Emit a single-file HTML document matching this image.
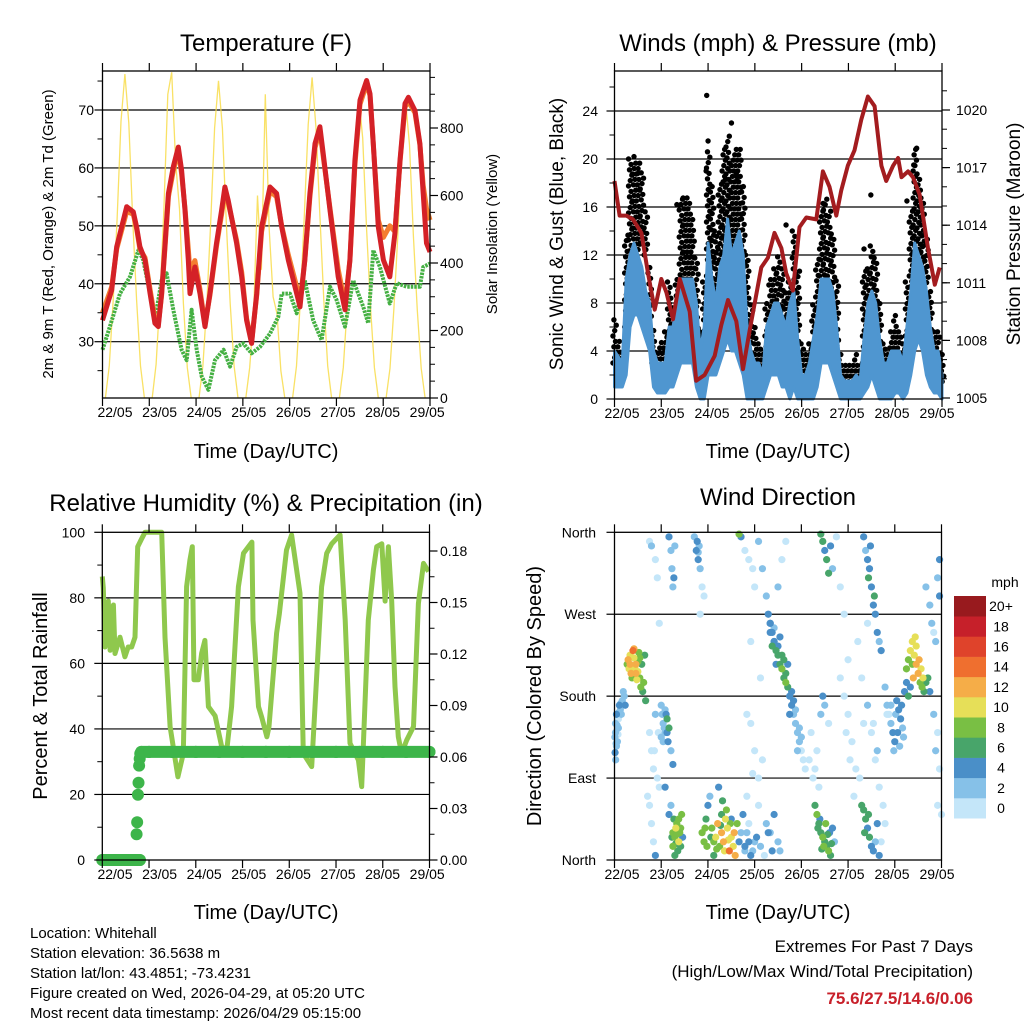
<!DOCTYPE html>
<html><head><meta charset="utf-8"><style>
html,body{margin:0;padding:0;background:#fff;}
svg{display:block;font-family:"Liberation Sans",Arial,sans-serif;}
</style></head><body>
<svg id="chart" width="1024" height="1024" viewBox="0 0 1024 1024" xmlns="http://www.w3.org/2000/svg">
<rect x="0" y="0" width="1024" height="1024" fill="#fff"/>
<text x="266" y="51" font-size="24" text-anchor="middle">Temperature (F)</text>
<text x="778" y="51" font-size="24" text-anchor="middle">Winds (mph) &amp; Pressure (mb)</text>
<text x="266" y="511" font-size="24" text-anchor="middle">Relative Humidity (%) &amp; Precipitation (in)</text>
<text x="778" y="505" font-size="24" text-anchor="middle">Wind Direction</text>
<text x="266" y="458" font-size="20" text-anchor="middle">Time (Day/UTC)</text>
<text x="778" y="458" font-size="20" text-anchor="middle">Time (Day/UTC)</text>
<text x="266" y="919" font-size="20" text-anchor="middle">Time (Day/UTC)</text>
<text x="778" y="919" font-size="20" text-anchor="middle">Time (Day/UTC)</text>
<text transform="translate(53,234) rotate(-90)" font-size="15" text-anchor="middle">2m &amp; 9m T (Red, Orange) &amp; 2m Td (Green)</text>
<text transform="translate(497,234) rotate(-90)" font-size="15" text-anchor="middle">Solar Insolation (Yellow)</text>
<text transform="translate(563,234) rotate(-90)" font-size="19" text-anchor="middle">Sonic Wind &amp; Gust (Blue, Black)</text>
<text transform="translate(1020,234) rotate(-90)" font-size="19" text-anchor="middle">Station Pressure (Maroon)</text>
<text transform="translate(47,696) rotate(-90)" font-size="20" text-anchor="middle">Percent &amp; Total Rainfall</text>
<text transform="translate(541,696) rotate(-90)" font-size="20" text-anchor="middle">Direction (Colored By Speed)</text>
<g font-size="15">
<text x="30" y="938">Location: Whitehall</text>
<text x="30" y="958">Station elevation: 36.5638 m</text>
<text x="30" y="978">Station lat/lon: 43.4851; -73.4231</text>
<text x="30" y="998">Figure created on Wed, 2026-04-29, at 05:20 UTC</text>
<text x="30" y="1018">Most recent data timestamp: 2026/04/29 05:15:00</text>
</g>
<g font-size="17" text-anchor="end">
<text x="973" y="952">Extremes For Past 7 Days</text>
<text x="973" y="977">(High/Low/Max Wind/Total Precipitation)</text>
<text x="973" y="1004" font-weight="bold" fill="#c8202a">75.6/27.5/14.6/0.06</text>
</g>
</svg>
<script>
// ---------- DATA ----------
const dayLabels=["22/05","23/05","24/05","25/05","26/05","27/05","28/05","29/05"];
const tempTimes=[0,4.7,7.3,12.4,15.8,17.5,19.2,21.8,24.4,26.9,28.6,30.3,32.1,33.8,36.3,38.9,40.6,42.3,44,44.9,47.4,50,52.6,55.1,58.5,61.1,62.8,64.5,68.8,71.4,73.9,76.5,79.1,81.6,85.9,89.3,91.9,95.3,99.6,101.3,103.8,106.4,109,111.5,113.2,116.7,120.9,124.4,126.9,129.5,132.1,135.5,137.2,138.9,141.5,144.1,147.4,150,152.6,155.2,156.9,160.3,162.8,164.5,166.2,168];
const redTemps=[33.7,38.9,46.4,53.3,52.4,49.8,46.4,44.1,38.3,33.2,32.6,38.3,47,55.6,60.2,63.6,59.6,52.7,44.1,38.3,42.9,38.3,32.6,38.3,47,52.7,56.7,54.4,47,41.2,33.7,29.7,38.3,49.8,56.7,55.6,49.8,44.1,38.3,36,44.1,55.6,64.2,67.1,62.5,52.7,41.2,35.5,44.1,61.3,71.7,75.1,72.8,64.2,49.8,44.1,41.2,48.7,61.3,71.1,72.2,69.9,64.2,55.6,47,45.5];
const orangeTemps=[35,39.5,46,52.5,52,49.5,46,44.5,39,34,33,38,46.5,55,59.5,63,59,53,46,42,44,39,33,38,46.5,52,56,54,47.5,42,34,30,38,49,56,55,50,45,39.5,37,44,55,63.5,66.5,62,53,42.5,36.5,44,60.5,71,74.5,72.5,64,51,48,50,49,61,70.5,71.5,69.5,64,57,53,51];
const dewTimes=[0,3.8,9,14.1,18.4,20.9,24.4,26.9,30.3,32.9,36.3,40.6,43.2,45.7,48.3,50.9,54.3,57.7,62.1,65.4,68.8,72.2,76.5,80.8,85.9,90.2,91.9,96.2,99.6,103.8,108.1,112.4,116.7,120.1,124.4,128.6,133.8,136.3,138.9,142.3,147.4,150.9,156,162.8,164.5,168];
const dewTemps=[28.6,32.6,38.3,41.2,45.8,44.1,38.3,33.7,40.6,41.8,35.5,28.6,26.8,35.5,28.6,24,21.7,26.8,28.6,25.7,29.1,29.7,28,29.1,31.4,34.3,38.3,38.3,34.9,40.6,33.7,30.3,39.5,37.2,32.6,40.6,36,33.2,45.8,42.9,36.6,40.1,39.5,39.5,42.9,43.5];
const solarStart=1.5, solarStep=2;
const solarValues=[0,96,290,530,820,960,815,530,290,95,0,0,
0,100,300,560,900,965,700,560,280,90,0,0,
0,95,280,520,800,940,800,520,280,95,0,0,
0,90,250,600,380,900,500,300,250,80,0,0,
0,95,290,540,810,950,800,540,290,95,0,0,
0,90,270,490,760,890,770,500,270,90,0,0,
0,88,265,480,750,880,750,480,260,88,0];
const windStep=2;
const gustHi=[7,5,4,14,20,20,20,19,16,11,6,4,5,6,10,8,10,17,17,17,15,12,6,10,21,18,14,18,21,22,20,21,21,18,12,8,6,5,4,8,10,11,12,11,9,10,14,11,5,4,5,8,12,16,17,16,14,10,4,3,3,3,4,3,11,11,13,12,8,5,4,6,7,6,5,10,16,21,19,17,14,9,6,6,4];
const gustLo=[3,3,2,6,11,12,12,13,12,6,3,2,2,2,3,4,5,9,10,10,10,5,2,3,8,6,5,8,10,12,10,10,10,6,3,2,1,1,1,3,5,5,6,5,3,3,5,3,1,1,1,2,4,8,9,8,7,4,1,1,1,1,1,1,3,5,6,5,3,1,1,2,2,2,1,3,8,10,12,10,7,4,2,2,1];
const windHi=[4,3.5,3,10,12,13,12,11,9,8,4,3,3,3,6,6,8,10,10,10,10,8,4,6,13,10,8,11,12,15,12,13,14,12,6,4,3,3,2,6,7,8,8,7,6,8,9,5,2,2,3,5,7,10,10,10,9,6,2,1.5,1.5,1.5,2,1.5,5,8,9,8,5,3,3,4,4,4,3,6,9,13,12,11,9,6,4,4,2];
const windLo=[1,1,1,2,6,7,7,6,5,4,1,0.5,0.5,0.5,1,1,2,3,3,3,3,1,0,0,2,2,2,3,4,5,4,4,3,2,0,0,0,0,0,1,2,2,2,1,1,0,1,0,0,0,0,0,1,3,3,3,2,1,0,0,0,0,0,0,0.5,1,2,1,0,0,0,0,0.5,0.5,0,0.5,2,4,5,4,2,1,0.5,0.5,0];
const gustOutlierTimes=[47.3,48,47,57,63,62.5,12,131.5,155,32,34,107,128,153.5,10,60,88,150];
const gustOutlierValues=[25.3,21.5,19,18.3,18.2,18.8,18.8,17,20.9,16.2,16.2,16.3,12.5,19.5,20.2,23,14.5,16.5];
const pressTimes=[0,2.6,6.1,9.5,13.8,17.2,20.6,24,26.6,30,33.5,38.6,41.9,46.2,51.4,54.8,58.2,62.5,65.9,69.3,75.3,78.7,82.1,85.6,88.1,91.5,94.9,98.4,103.5,106.9,110.3,113.8,116.3,119.7,123.1,126.6,130,133.4,136.9,139.4,142.9,145.5,147.2,150.6,153.1,156.5,160.8,164.3,166.8];
const pressValues=[1016.3,1014.5,1014.5,1014.3,1013.6,1011.5,1009.6,1011.2,1010.5,1009.1,1011.2,1009.5,1005.9,1006.2,1007.2,1008.8,1010.1,1009,1006.5,1008.5,1011.8,1012.3,1013.6,1012.8,1011.5,1010.6,1013.9,1014.4,1014.3,1016.8,1016,1014.5,1015.8,1017.1,1017.9,1019.5,1020.7,1020.2,1017.1,1016.3,1017.1,1017.5,1016.5,1016.8,1016.5,1015.6,1012.8,1010.9,1011.8];
const rhTimes=[0,0.5,1.4,3.1,4,5.7,6.5,9.1,11.6,13.3,15.1,16.8,18.2,20.2,21.9,30.5,32.2,34.8,38.8,41.6,43.3,45,46.2,47.1,49.3,51,52.7,54.5,57.9,61.3,63.9,66.4,69.9,72.5,76.8,77.4,80.2,81.9,84.5,85.6,89.5,90.9,94.6,97.2,101.5,103.2,107.5,112.6,115.2,117.8,122.1,124.7,127.2,131.5,133.2,136.6,139.2,140.9,143.5,145.2,146.9,148.6,150.3,152,153.7,156.3,159.8,162.3,164.9,167.5];
const rhValues=[86.5,83,65,79,64,77.8,63,68,62,65,65,68,95.6,98,100,100,68,40.7,25.4,32.5,83.4,91.5,95.6,55,55,63,67,46.8,44,34.6,33.6,46.8,83.4,93.6,97,73.2,46.8,43.5,37.6,40.7,69.2,75,94.6,99.2,81.4,32.5,28.5,83.4,93.6,96.5,99.2,73.2,35.6,30.5,22.4,73.2,88.5,95.6,96.5,79,95.6,79,52.9,37.6,32.5,36.6,40.7,78.3,90.5,88];
const precipTimes=[0,1,2,3,4,5,6,7,8,9,10,11,12,13,14,15,16,17,18,19.3,17.6,17.9,18.3,18.6,18.9,19.2,19.5,20,24,36,48,60,72,84,96,108,120,132,144,156,168];
const precipValues=[0,0,0,0,0,0,0,0,0,0,0,0,0,0,0,0,0,0,0,0,0.015,0.022,0.038,0.045,0.055,0.059,0.062,0.063,0.063,0.063,0.063,0.063,0.063,0.063,0.063,0.063,0.063,0.063,0.063,0.063,0.063];
const dirLabels=["North","East","South","West","North"];
const speedBinLabels=["0","2","4","6","8","10","12","14","16","18","20+"];
const speedBinColors=["#c4e6f9","#86c1e8","#4a8fc8","#48a56a","#79bf44","#e6df58","#f5ad48","#ef6f2f","#df432b","#c6202a","#981a1e"];
const dirPoints="0.5,150,3;0.5,140,2;1,160,4;1.5,130,2;2,145,3;2.5,170,4;3,165,3;1,125,2;0.3,118,4;2,155,1;4,175,2;5,180,3;5.5,170,4;3.5,160,2;0.2,135,3;0.8,128,3;1.3,148,2;2.2,162,3;3.2,172,2;4.5,185,3;0.6,110,2;1.8,138,1;"+
"7,220,12;8,215,13;9,210,11;10,222,10;11,205,12;12,218,9;13,200,8;14,215,7;15,195,9;8.5,205,12;10.5,212,11;12.5,228,8;14.5,185,7;16,175,6;9.5,230,14;11.5,198,10;13.5,190,9;15.5,225,6;7.5,210,10;9,200,9;10,232,12;11,215,13;12,207,10;13,222,9;8,225,11;6.5,215,8;"+
"18,350,1;19,345,2;21,330,1;22,310,1;23,260,0;28,355,5;29,340,3;29.5,320,3;30,300,3;30.5,310,4;31,345,2;"+
"18,140,0;19,120,1;20,100,1;21,160,2;24,170,3;25,150,3;26,140,3;26.5,160,4;27,155,6;27.5,130,5;28,145,6;29,120,3;30,105,4;22,90,1;23,80,1;22.5,140,0;25,130,2;24.5,160,2;25.5,145,3;26,165,3;27,140,4;24,135,2;20.5,120,1;"+
"17,70,1;18,60,1;19,40,0;20,20,1;21,5,4;26,80,4;28,50,5;30,30,8;31,25,9;32,40,8;33,20,10;34,15,7;30.5,45,7;31.5,35,10;32.5,10,6;29,60,3;33.5,30,9;34.5,50,8;31,5,6;29.5,25,7;30,15,8;32,28,9;33,45,8;31.5,18,7;34,35,8;35,25,4;"+
"41,355,3;42,340,4;43,330,4;43.5,345,3;44,320,2;45,300,1;46,290,1;44,270,0;42.5,350,4;43,338,3;"+
"45,30,8;46,20,9;47,45,7;48,60,4;49,70,3;50,35,8;51,20,8;52,25,10;53,40,12;54,15,9;55,30,13;56,20,12;57,45,10;58,35,11;59,10,14;60,25,11;61,15,10;62,5,13;63,40,8;64,20,4;65,30,3;66,50,4;67,10,3;68,70,1;69,40,1;53.5,80,5;55.5,65,6;57.5,55,8;51,5,7;60,45,4;46.5,35,8;47.5,15,9;49.5,25,7;52.5,12,8;54.5,38,7;56.5,10,10;58.5,22,10;61.5,30,12;59.5,40,8;55,50,6;"+
"64,358,8;65,355,4;67,340,1;69,330,1;71,320,1;72,300,1;74,350,2;76,320,3;78,290,3;80,260,4;82,240,4;84,300,2;86,330,1;88,350,1;"+
"79,270,4;80,260,4;81,250,5;82,240,4;83,230,6;84,225,7;85,215,6;86,210,8;87,200,7;88,195,8;89,190,6;90,180,4;91,170,4;92,160,3;93,150,3;94,140,2;95,130,2;96,120,1;97,110,1;98,100,1;81,235,7;83,215,5;85,245,4;87,220,6;90,160,4;92,175,4;95,145,3;80,250,5;82,255,3;84,235,4;86,225,6;88,205,7;89,215,5;91,185,4;93,165,3;94,120,2;96,135,2;"+
"68,160,1;70,150,1;72,120,1;74,90,1;75,200,0;70,240,1;71,95,0;76,110,1;74,60,1;78,40,2;80,30,2;82,50,4;84,20,2;85,10,2;"+
"67,15,4;69,20,4;71,10,2;73,25,4;75,15,3;77,5,1;79,30,5;81,10,4;68,30,3;70,5,4;72,20,2;"+
"100,110,1;101,140,0;102,90,0;103,100,1;104,120,0;105,80,0;106,160,2;107,180,4;108,170,2;110,150,1;"+
"103,60,6;104,50,8;105,40,7;106,30,6;107,25,8;108,20,6;109,15,7;110,10,8;111,5,6;112,35,5;105.5,45,5;107.5,15,9;110.5,30,4;113,20,3;104.5,35,7;106.5,12,6;108.5,40,8;109.5,28,6;111.5,18,7;"+
"106,358,6;107,350,7;108,340,5;109,330,6;110,315,7;111,345,4;112,320,3;114,355,1;116,300,1;118,270,0;"+
"116,200,0;118,180,1;120,160,0;122,130,1;124,100,0;126,90,1;128,150,1;130,170,2;132,140,1;134,110,0;136,80,1;138,60,0;120,220,0;125,240,1;130,260,1;135,120,3;140,160,1;139,40,0;137,20,1;119,140,0;121,110,1;123,70,0;127,200,1;133,150,1;"+
"128,355,4;129,340,3;130,330,4;131,320,4;132,300,5;133,280,4;134,270,4;135,250,5;136,240,3;137,230,4;130.5,310,6;133.5,290,6;131.5,345,5;"+
"127,60,6;128,55,7;129,45,6;130,35,5;131,25,6;132,15,5;133,10,4;134,20,3;135,40,4;136,5,4;128.5,30,6;130.5,50,7;"+
"139,190,3;140,170,2;141,160,1;142,150,3;143,140,4;144,130,4;145,175,4;146,165,4;147,155,4;148,145,3;149,185,4;150,195,5;151,180,6;152,190,5;143.5,120,3;146.5,125,3;144.5,160,3;145.5,140,4;147.5,170,4;148.5,135,3;142,170,2;"+
"150,210,8;151,220,9;152,230,10;153,240,11;153.5,200,12;154,225,10;155,215,13;156,205,12;157,195,9;158,190,8;159,185,7;160,195,6;155,235,10;157.5,210,11;161,200,6;162,185,4;154.5,245,11;156.5,220,12;153,215,9;158.5,200,10;"+
"160,300,2;162,280,2;163,260,3;164,250,1;165,240,2;166,310,3;167,330,4;165,120,2;166,140,1;167,100,1;164,160,2;166,60,1;168,50,0;167,290,4";

// ---------- HELPERS ----------
const NS="http://www.w3.org/2000/svg";
const svg=document.getElementById("chart");
function mk(tag,attrs,parent){const e=document.createElementNS(NS,tag);for(const k in attrs)e.setAttribute(k,attrs[k]);(parent||svg).appendChild(e);return e;}
function lin(d0,d1,r0,r1){return v=>r0+(v-d0)*(r1-r0)/(d1-d0);}
function pts(ts,vs,xf,yf){return ts.map((t,i)=>xf(t).toFixed(1)+","+yf(vs[i]).toFixed(1)).join(" ");}

function frame(P,name){
  const r=mk("rect",{x:P.x0,y:P.y0,width:P.x1-P.x0,height:P.y1-P.y0,fill:"none",stroke:"#000","stroke-width":1.3});
  
  
}
function gridH(P,ys,name){
  const g=mk("g",{});
  
  
  ys.forEach(y=>{
    const l=mk("line",{x1:P.x0,x2:P.x1,y1:y,y2:y,stroke:"#000","stroke-width":1.2},g);
    
    
  });
}
function xAxis(P,labelX,name){
  const g=mk("g",{});
  
  
  const xs=lin(0,168,P.x0,P.x1);
  for(let d=0;d<=7;d++){
    const x=xs(d*24);
    const t1=mk("line",{x1:x,x2:x,y1:P.y0,y2:P.y0-8,stroke:"#000","stroke-width":1.2},g);
    
    
    const t2=mk("line",{x1:x,x2:x,y1:P.y1,y2:P.y1+8,stroke:"#000","stroke-width":1.2},g);
    
    
    const tx=mk("text",{x:labelX(d),y:P.y1+19,"font-size":14,"text-anchor":"middle"},g);
    tx.textContent=dayLabels[d];
    
    
  }
}
function yTicks(P,side,majors,minors,yf,fmt,lx,name){
  const g=mk("g",{"font-size":14});
  
  
  const x=side==="left"?P.x0:P.x1, s=side==="left"?-1:1;
  minors.forEach(v=>{
    const l=mk("line",{x1:x,x2:x+s*5,y1:yf(v),y2:yf(v),stroke:"#000","stroke-width":1},g);
    
    
  });
  majors.forEach((v,i)=>{
    const y=yf(v);
    const l=mk("line",{x1:x,x2:x+s*8,y1:y,y2:y,stroke:"#000","stroke-width":1.2},g);
    
    
    const t=mk("text",{x:lx,y:y+5,"text-anchor":side==="left"?"end":"start"},g);
    t.textContent=fmt(v,i);
    
    
  });
}
function range(a,b,s){const r=[];for(let v=a;v<=b+1e-9;v+=s)r.push(+v.toFixed(4));return r;}

// ---------- TEMPERATURE PANEL ----------
const PT={x0:102.5,x1:430,y0:71,y1:398};
const tx=lin(0,168,PT.x0,PT.x1);
const ty=lin(30,70,341.7,110);
const sy=lin(0,800,398,128);
const tClip=mk("clipPath",{id:"clipT"});mk("rect",{x:PT.x0,y:PT.y0,width:PT.x1-PT.x0,height:PT.y1-PT.y0},tClip);
gridH(PT,[30,40,50,60,70].map(ty),"temp");
const solarTimes=solarValues.map((v,i)=>solarStart+i*solarStep);
const solarLine=mk("polyline",{points:pts(solarTimes,solarValues,tx,sy),fill:"none",stroke:"#f8dc4a","stroke-width":1.3,"stroke-opacity":0.85,"clip-path":"url(#clipT)"});


const dewLine=mk("polyline",{points:pts(dewTimes,dewTemps,tx,ty),fill:"none",stroke:"#45b043","stroke-width":4,"stroke-dasharray":"2.5 1","stroke-linejoin":"round"});


const orangeLine=mk("polyline",{points:pts(tempTimes,orangeTemps,tx,ty),fill:"none",stroke:"#f47d30","stroke-width":5,"stroke-linejoin":"round"});


const redLine=mk("polyline",{points:pts(tempTimes,redTemps,tx,ty),fill:"none",stroke:"#d42127","stroke-width":5,"stroke-linejoin":"round"});


frame(PT,"temp");
xAxis(PT,d=>115+d*44.6,"temp");
yTicks(PT,"left",[30,40,50,60,70],[25,35,45,55,65,75],ty,v=>v,94,"temp-y-axis");
yTicks(PT,"right",[0,200,400,600,800],range(0,950,50),sy,v=>v,440,"solar-y-axis");

// ---------- WINDS PANEL ----------
const PW={x0:614.5,x1:942,y0:71,y1:399};
const wx=lin(0,168,PW.x0,PW.x1);
const wy=lin(0,24,399,111);
const py=lin(1005,1020,398,110);
gridH(PW,[4,8,12,16,20,24].map(wy),"winds");
const wTimes=gustHi.map((v,i)=>i*windStep);
const gustG=mk("g",{});


const jitter=[-0.8,0.1,0.9,-0.3,0.5];
wTimes.forEach((t,i)=>{
  let k=0;
  for(let v=gustLo[i];v<=gustHi[i]+1e-6;v+=0.45){
    const c=mk("circle",{cx:wx(t+jitter[k%5]),cy:wy(v),r:2.7,fill:"#000"},gustG);
    
    
    k++;
  }
});
gustOutlierTimes.forEach((t,i)=>{
  const c=mk("circle",{cx:wx(t),cy:wy(gustOutlierValues[i]),r:2.7,fill:"#000"},gustG);
  
  
});
const bandPts=wTimes.map((t,i)=>wx(t).toFixed(1)+","+wy(windHi[i]).toFixed(1)).concat(wTimes.slice().reverse().map((t,j)=>{const i=wTimes.length-1-j;return wx(t).toFixed(1)+","+wy(windLo[i]).toFixed(1);})).join(" ");
const band=mk("polygon",{points:bandPts,fill:"#4f96d0",stroke:"#4f96d0","stroke-width":3,"stroke-linejoin":"round"});


const pLine=mk("polyline",{points:pts(pressTimes,pressValues,wx,py),fill:"none",stroke:"#a31c1f","stroke-width":4,"stroke-linejoin":"round"});


frame(PW,"winds");
xAxis(PW,d=>622+d*45,"winds");
yTicks(PW,"left",[0,4,8,12,16,20,24],[2,6,10,14,18,22,26],wy,v=>v,598,"wind-y-axis");
yTicks(PW,"right",[1005,1008,1011,1014,1017,1020],range(1005,1021,1),py,v=>v,956,"pressure-y-axis");

// ---------- HUMIDITY PANEL ----------
const PR={x0:102.3,x1:429.5,y0:532.3,y1:860};
const rx=lin(0,168,PR.x0,PR.x1);
const ry=lin(0,100,860,532.3);
const ppy=lin(0,0.18,860,551);
gridH(PR,[20,40,60,80].map(ry),"humidity");
const rhLine=mk("polyline",{points:pts(rhTimes,rhValues,rx,ry),fill:"none",stroke:"#8fc84d","stroke-width":5,"stroke-linejoin":"round"});


const prG=mk("g",{});


precipTimes.forEach((t,i)=>{
  if(i>0&&precipValues[i]===precipValues[i-1]&&precipTimes[i]>precipTimes[i-1]){
    const l=mk("line",{x1:rx(precipTimes[i-1]),x2:rx(t),y1:ppy(precipValues[i]),y2:ppy(precipValues[i]),stroke:"#3db54a","stroke-width":12,"stroke-linecap":"round"},prG);
    
    
  }
  const c=mk("circle",{cx:rx(t),cy:ppy(precipValues[i]),r:6,fill:"#3db54a"},prG);
  
  
});
frame(PR,"humidity");
xAxis(PR,d=>115+d*44.6,"humidity");
yTicks(PR,"left",[0,20,40,60,80,100],[10,30,50,70,90],ry,v=>v,85,"humidity-y-axis");
yTicks(PR,"right",range(0,0.18,0.03),range(0.015,0.18,0.03),ppy,v=>v.toFixed(2),440,"precip-y-axis");

// ---------- WIND DIRECTION PANEL ----------
const PD={x0:614.5,x1:941.5,y0:532.3,y1:860};
const dx=lin(0,168,PD.x0,PD.x1);
const dy=lin(0,360,860,532.3);
gridH(PD,[90,180,270].map(dy),"direction");
function binColor(s){return speedBinColors[Math.min(10,Math.floor(s/2))];}
const dG=mk("g",{});


const dirList=dirPoints.split(";").map(s=>s.split(",").map(Number));
dirList.sort((a,b)=>a[2]-b[2]);
dirList.forEach(p=>{
  const c=mk("circle",{cx:dx(p[0]),cy:dy(p[1]),r:3.6,fill:binColor(p[2])},dG);
  
  
});
frame(PD,"direction");
xAxis(PD,d=>622+d*45,"direction");
yTicks(PD,"left",[0,90,180,270,360],[],dy,(v,i)=>dirLabels[i],596,"direction-y-axis");

// colorbar
const cb=mk("g",{"font-size":14});


const cbTop=596,cbH=20.2;
speedBinColors.forEach((col,i)=>{
  const y=cbTop+(10-i)*cbH;
  const r=mk("rect",{x:954,y:y,width:32,height:cbH+0.3,fill:col},cb);
  
  
  const t=mk("text",{x:1001,y:y+cbH/2+5,"text-anchor":"middle"},cb);
  t.textContent=speedBinLabels[i];
  
  
});
const mph=mk("text",{x:1005,y:587,"text-anchor":"middle","font-size":14},cb);
mph.textContent="mph";


</script>
</body></html>
